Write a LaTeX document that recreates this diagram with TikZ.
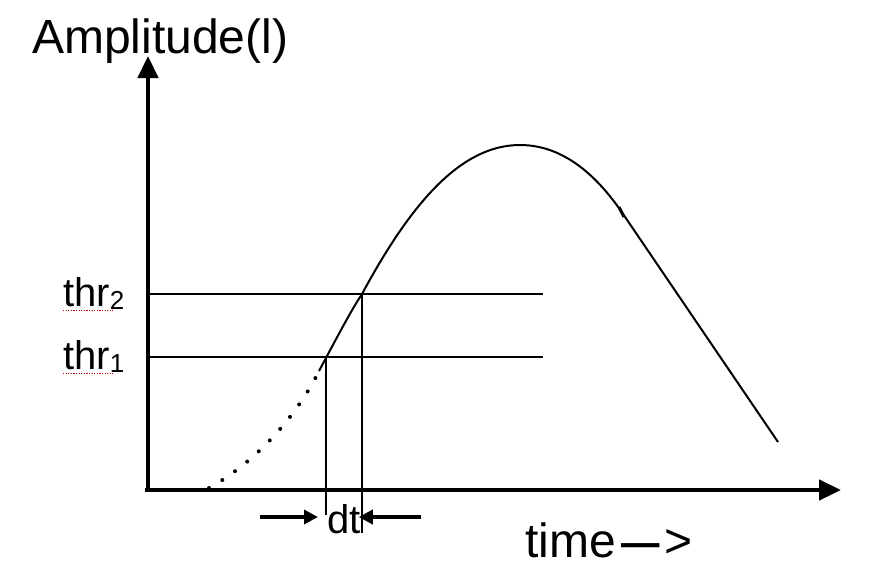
\documentclass[tikz,border=0pt]{standalone}
\usepackage{fontspec}
\usepackage{graphicx}
\setmainfont{Liberation Sans}
\usetikzlibrary{arrows.meta}
\begin{document}
\begin{tikzpicture}[x=1pt,y=-1pt,
  axis/.style={line width=4.5pt,-{Triangle[length=22pt,width=20pt]}},
  thin/.style={line width=2pt},
  dtarrow/.style={line width=3.5pt,-{Triangle[length=14pt,width=14pt]}},
  big/.style={font=\fontsize{48}{56}\selectfont,inner sep=0pt},
  lab/.style={font=\fontsize{40}{46}\selectfont,inner sep=0pt},
  spell/.style={red!80!black,line width=1pt,dash pattern=on 1.2pt off 1.4pt}]
\useasboundingbox (0,0) rectangle (874,576);
% axes
\coordinate (ytop) at (148,56);
\coordinate (xend) at (841,490);
\coordinate (ybot) at (148,492);
\coordinate (xbeg) at (145,490);
\draw[axis] (ybot) -- (ytop);
\draw[axis] (xbeg) -- (xend);
% threshold lines
\coordinate (t2a) at (148,294);
\coordinate (t2b) at (543,294);
\coordinate (t1a) at (148,357);
\coordinate (t1b) at (543,357);
\draw[thin] (t2a) -- (t2b);
\draw[thin] (t1a) -- (t1b);
% crossing points and verticals
\coordinate (c1) at (326,357);
\coordinate (c2) at (362,294);
\coordinate (v1) at (326,515);
\coordinate (v2) at (362,533);
\draw[thin] (c1) -- (v1);
\draw[thin] (c2) -- (v2);
% curve
\coordinate (s0) at (209,488);
\coordinate (s1) at (319,371);
\coordinate (peak) at (520,145);
\coordinate (kink) at (621,211);
\coordinate (cend) at (778,442);
\draw[line width=4pt,dash pattern=on 0pt off 15.5pt,line cap=round]
  (s0) .. controls (260,460) and (300,410) .. (s1);
\draw[thin] (s1) .. controls (333,345) and (350,312) .. (c2)
  .. controls (410,205) and (460,145) .. (peak)
  .. controls (565,145) and (598,178) .. (kink) -- (cend);
\draw[line width=3pt] (619,207) -- (624,217);
% labels
\node[big,anchor=base west] (amp) at (32,53) {Amplitude(l)};
\node[lab,anchor=base west] (thr2) at (63,306) {thr\raisebox{-3pt}{\fontsize{26}{30}\selectfont 2}};
\node[lab,anchor=base west] (thr1) at (63,369) {thr\raisebox{-3pt}{\fontsize{26}{30}\selectfont 1}};
\draw[spell] (thr2.south west) ++(0,1) -- ++(50,0);
\draw[spell] (thr1.south west) ++(0,1) -- ++(50,0);
\node[lab,anchor=base west] (dt) at (327,533) {dt};
\coordinate (la) at (260,517);
\coordinate (ra) at (421,517);
\draw[dtarrow,shorten >=9pt] (la) -- (dt.west |- la);
\draw[dtarrow,shorten >=-2pt] (ra) -- (dt.east |- ra);
\node[big,anchor=base west] (time) at (525,557) {time\kern6pt\raisebox{-4pt}{\scalebox{0.8}[1.3]{—}}\kern4pt>};
\end{tikzpicture}
\end{document}
